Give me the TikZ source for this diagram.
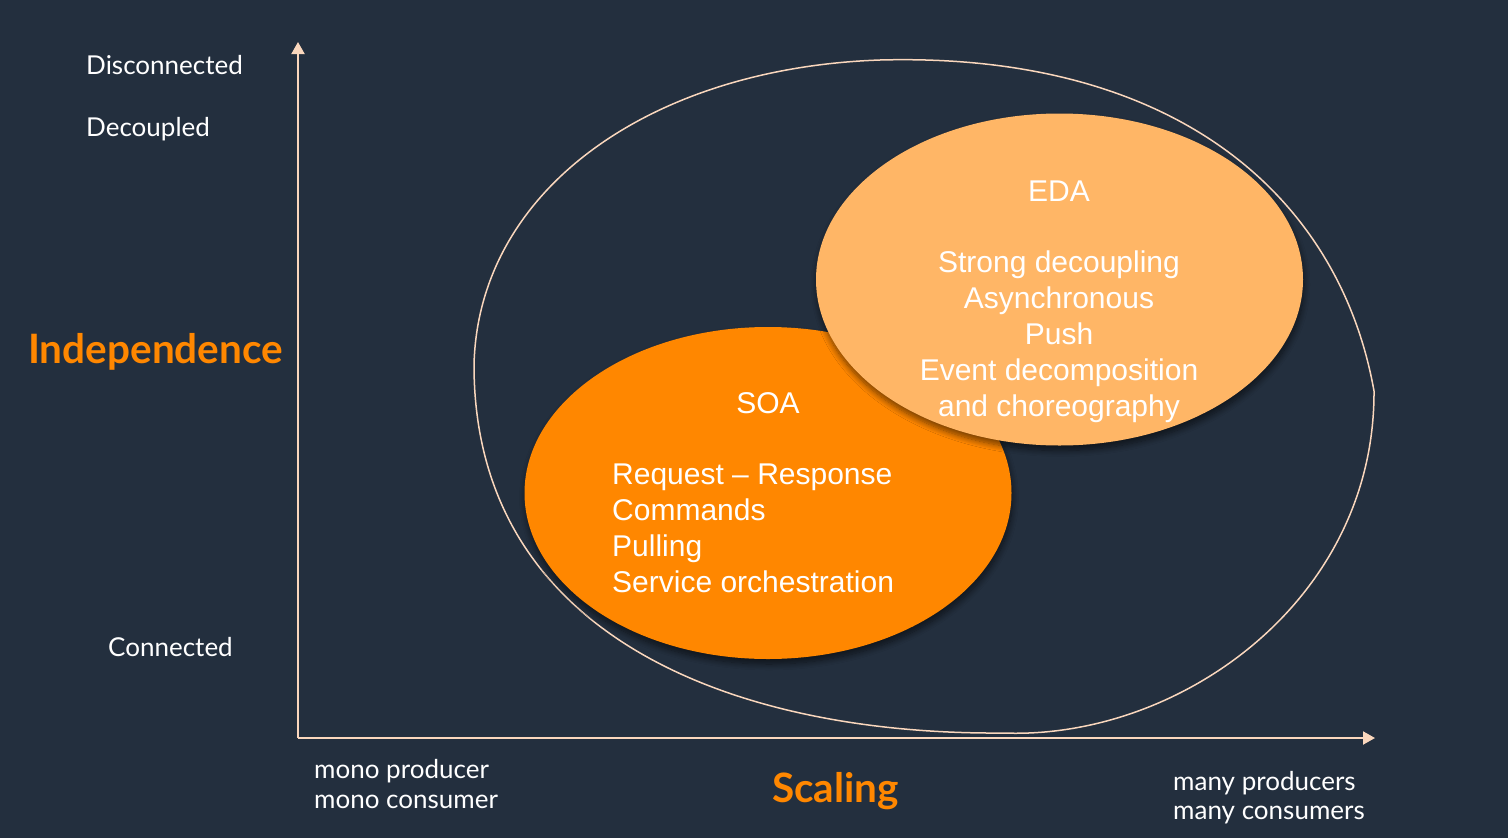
\documentclass[tikz,border=0pt]{standalone}
\usepackage{fontspec}
\setmainfont{Lato}
\newfontfamily\arialfont{Liberation Sans}
\usetikzlibrary{arrows.meta,shadows.blur,shapes.geometric}
\definecolor{bgc}{HTML}{232F3E}
\definecolor{soac}{HTML}{FF8700}
\definecolor{edac}{HTML}{FFB666}
\definecolor{axisc}{HTML}{FAD7BD}
\begin{document}
\begin{tikzpicture}[x=1pt,y=-1pt,
  axisline/.style={draw=axisc, line width=2pt, -{Triangle[length=12pt,width=13pt]}},
  outline/.style={draw=axisc, line width=1.5pt},
  blob/.style={ellipse, inner sep=0pt, minimum width=487pt, minimum height=332pt,
    blur shadow={shadow xshift=1pt, shadow yshift=-5pt, shadow opacity=55, shadow blur radius=6pt, shadow blur steps=10}},
  lbl/.style={anchor=base west, text=white, font=\fontsize{26}{30}\selectfont, inner sep=0pt},
  big/.style={anchor=base west, text=soac, font=\bfseries\fontsize{40.5}{44}\selectfont, inner sep=0pt},
  etxt/.style={anchor=base, text=white, font=\arialfont\fontsize{30}{36}\selectfont, inner sep=0pt},
  stxt/.style={anchor=base west, text=white, font=\arialfont\fontsize{30}{36}\selectfont, inner sep=0pt}]
\fill[bgc] (0,0) rectangle (1508,838);
\useasboundingbox (0,0) rectangle (1508,838);

% outer region
\coordinate (cl) at (474,365);
\coordinate (ct) at (880,60);
\coordinate (cr) at (1374,391);
\coordinate (cb) at (1003,733);
\draw[outline] (cl) .. controls (478,190) and (650,68) .. (ct)
  .. controls (1180,52) and (1340,200) .. (cr)
  .. controls (1375,600) and (1180,740) .. (cb)
  .. controls (740,735) and (474,640) .. (cl) -- cycle;

% axes
\coordinate (o) at (298,738);
\coordinate (ytip) at (298,42);
\coordinate (xtip) at (1375,738);
\draw[axisline] (o) -- (ytip);
\draw[axisline] (o) -- (xtip);

% ellipses
\node[blob, fill=soac] (soa) at (768,493) {};
\node[blob, fill=edac] (eda) at (1059.5,279.5) {};

% EDA text
\node[etxt] (edat) at (1059,201) {EDA};
\node[etxt] (e1) at (1059,272) {Strong decoupling};
\node[etxt] (e2) at (1059,308) {Asynchronous};
\node[etxt] (e3) at (1059,344) {Push};
\node[etxt] (e4) at (1059,380) {Event decomposition};
\node[etxt] (e5) at (1059,416) {and choreography};

% SOA text
\node[etxt] (soat) at (768,413) {SOA};
\node[stxt] (s1) at (612,484) {Request – Response};
\node[stxt] (s2) at (612,520) {Commands};
\node[stxt] (s3) at (612,556) {Pulling};
\node[stxt] (s4) at (612,592) {Service orchestration};

% axis labels
\node[lbl] (disc) at (86,74) {Disconnected};
\node[lbl] (deco) at (86,136) {Decoupled};
\node[lbl] (conn) at (108,656) {Connected};
\node[big] (indep) at (28,363) {Independence};
\node[lbl] (mono1) at (314,778) {mono producer};
\node[lbl] (mono2) at (314,808) {mono consumer};
\node[big] (scal) at (772,802) {Scaling};
\node[lbl] (many1) at (1173,790) {many producers};
\node[lbl] (many2) at (1173,819) {many consumers};
\end{tikzpicture}
\end{document}
